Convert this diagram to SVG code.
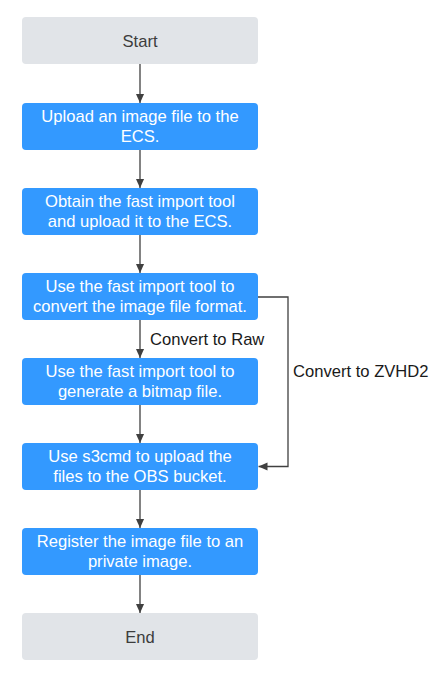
<svg xmlns="http://www.w3.org/2000/svg" width="435" height="682" viewBox="0 0 435 682">
<defs>
<style>
.blue{fill:#3399ff}
.gray{fill:#e1e4e8}
.tw{font-family:"Liberation Sans",Arial,sans-serif;font-size:16.6px;fill:#ffffff;text-anchor:middle}
.tg{font-family:"Liberation Sans",Arial,sans-serif;font-size:16.6px;fill:#3c3c3c;text-anchor:middle}
.lbl{font-family:"Liberation Sans",Arial,sans-serif;font-size:16.6px;fill:#1a1a1a}
.con{stroke:#404040;stroke-width:1.3;fill:none}
</style>
<marker id="ah" viewBox="0 0 10 10" refX="10" refY="5" markerWidth="9" markerHeight="9" markerUnits="userSpaceOnUse" orient="auto">
<path d="M0,0.5 L10,5 L0,9.5 Z" fill="#404040"/>
</marker>
</defs>
<rect width="435" height="682" fill="#ffffff"/>
<g id="connectors">
<line class="con" x1="140" y1="64" x2="140" y2="103" marker-end="url(#ah)"/>
<line class="con" x1="140" y1="150" x2="140" y2="188" marker-end="url(#ah)"/>
<line class="con" x1="140" y1="235" x2="140" y2="273" marker-end="url(#ah)"/>
<line class="con" x1="140" y1="320" x2="140" y2="358" marker-end="url(#ah)"/>
<line class="con" x1="140" y1="405" x2="140" y2="443" marker-end="url(#ah)"/>
<line class="con" x1="140" y1="490" x2="140" y2="528" marker-end="url(#ah)"/>
<line class="con" x1="140" y1="575" x2="140" y2="613" marker-end="url(#ah)"/>
<polyline class="con" points="258,297 288,297 288,466.5 258.5,466.5" marker-end="url(#ah)"/>
<text class="lbl" x="150" y="345">Convert to Raw</text>
<text class="lbl" x="293" y="377">Convert to ZVHD2</text>
</g>
<g id="start">
<rect class="gray" x="22" y="17" width="236" height="47" rx="4"/>
<text class="tg" x="140" y="47">Start</text>
</g>
<g id="upload-image">
<rect class="blue" x="22" y="103" width="236" height="47" rx="4"/>
<text class="tw" x="140" y="122">Upload an image file to the</text>
<text class="tw" x="140" y="142">ECS.</text>
</g>
<g id="obtain-tool">
<rect class="blue" x="22" y="188" width="236" height="47" rx="4"/>
<text class="tw" x="140" y="207">Obtain the fast import tool</text>
<text class="tw" x="140" y="227">and upload it to the ECS.</text>
</g>
<g id="convert-format">
<rect class="blue" x="22" y="273" width="236" height="47" rx="4"/>
<text class="tw" x="140" y="292">Use the fast import tool to</text>
<text class="tw" x="140" y="312">convert the image file format.</text>
</g>
<g id="generate-bitmap">
<rect class="blue" x="22" y="358" width="236" height="47" rx="4"/>
<text class="tw" x="140" y="377">Use the fast import tool to</text>
<text class="tw" x="140" y="397">generate a bitmap file.</text>
</g>
<g id="upload-obs">
<rect class="blue" x="22" y="443" width="236" height="47" rx="4"/>
<text class="tw" x="140" y="462">Use s3cmd to upload the</text>
<text class="tw" x="140" y="482">files to the OBS bucket.</text>
</g>
<g id="register">
<rect class="blue" x="22" y="528" width="236" height="47" rx="4"/>
<text class="tw" x="140" y="547">Register the image file to an</text>
<text class="tw" x="140" y="567">private image.</text>
</g>
<g id="end">
<rect class="gray" x="22" y="613" width="236" height="47" rx="4"/>
<text class="tg" x="140" y="643">End</text>
</g>
</svg>
